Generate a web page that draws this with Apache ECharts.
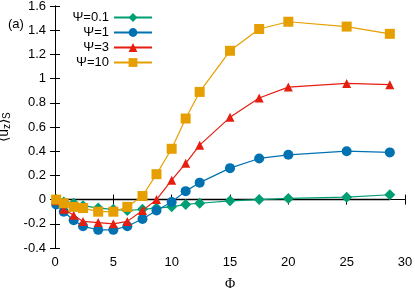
<!DOCTYPE html>
<html><head><meta charset="utf-8">
<script src="https://cdn.jsdelivr.net/npm/echarts@6/dist/echarts.min.js"></script>
<style>html,body{margin:0;padding:0;background:#fff}#c{width:415px;height:289px}</style>
</head><body><div id="c"></div>
<script>
const phi = [0.1, 0.75, 1.6, 2.4, 3.7, 5, 6.2, 7.5, 8.7, 10, 11.2, 12.4, 15, 17.5, 20, 25, 28.7];
const psi01 = [0.00, -0.02, -0.03, -0.05, -0.07, -0.08, -0.09, -0.08, -0.07, -0.06, -0.04, -0.03, -0.01, 0.00, 0.01, 0.02, 0.04];
const psi1  = [-0.04, -0.10, -0.17, -0.22, -0.25, -0.25, -0.22, -0.16, -0.09, -0.02, 0.07, 0.14, 0.26, 0.34, 0.37, 0.40, 0.39];
const psi3  = [-0.01, -0.08, -0.13, -0.18, -0.19, -0.20, -0.18, -0.09, 0.00, 0.16, 0.30, 0.45, 0.68, 0.84, 0.93, 0.96, 0.95];
const psi10 = [0.00, -0.03, -0.06, -0.07, -0.10, -0.10, -0.06, 0.03, 0.21, 0.42, 0.67, 0.89, 1.23, 1.41, 1.47, 1.43, 1.37];
const seriesNames = ['Ψ=0.1', 'Ψ=1', 'Ψ=3', 'Ψ=10'];
const zeroLineX = [0, 28.7];

const colors = ['#009e73', '#0072b2', '#e51e10', '#e69f00'];
const symbols = ['diamond', 'circle', 'triangle', 'rect'];
const sizes = [11, 10, 9, 10];
const values = [psi01, psi1, psi3, psi10];
const font = 'Liberation Sans, Arial, sans-serif';

const chart = echarts.init(document.getElementById('c'), null, {renderer: 'canvas'});
const series = values.map((v, i) => ({
  name: seriesNames[i], type: 'line',
  data: phi.map((x, k) => [x, v[k]]),
  symbol: symbols[i], symbolSize: sizes[i], showAllSymbol: true,
  lineStyle: {color: colors[i], width: 1.2},
  itemStyle: {color: colors[i]},
  z: 3 + i, animation: false
}));
series.unshift({
  name: 'zero', type: 'line', data: zeroLineX.map(x => [x, 0]),
  symbol: 'none', lineStyle: {color: '#000', width: 1.5}, z: 2, animation: false, silent: true
});
const legends = seriesNames.map((n, i) => ({
  data: [n], right: 262, top: 11 + i * 15, align: 'right', orient: 'vertical',
  itemWidth: 38, itemHeight: 11, itemGap: 0, padding: 0,
  textStyle: {fontFamily: font, fontSize: 13, color: '#000'}
}));
const axisLine = {show: true, lineStyle: {color: '#000', width: 1}};
chart.setOption({
  animation: false,
  title: {text: '(a)', left: 3, top: 13, textStyle: {fontFamily: font, fontSize: 13, fontWeight: 'normal', color: '#000'}},
  legend: legends,
  grid: {left: 55, right: 10, top: 6, bottom: 41, containLabel: false, outerBoundsMode: 'none'},
  xAxis: [{
    type: 'value', min: 0, max: 30, interval: 5,
    name: 'Φ', nameLocation: 'middle', nameGap: 29,
    nameTextStyle: {fontFamily: 'Liberation Serif, serif', fontSize: 14, color: '#000'},
    axisLine, axisTick: {show: true, inside: true, length: 5, lineStyle: {color: '#000'}},
    axisLabel: {fontFamily: font, fontSize: 13, color: '#000', margin: 8},
    splitLine: {show: false}
  }, {
    type: 'value', position: 'top', min: 0, max: 30, interval: 5,
    axisLine, axisTick: {show: true, inside: true, length: 5, lineStyle: {color: '#000'}},
    axisLabel: {show: false}, splitLine: {show: false}
  }],
  yAxis: [{
    type: 'value', min: -0.4, max: 1.6, interval: 0.2,
    name: '⟨u{sub|z}⟩{sub|S}', nameLocation: 'middle', nameGap: 38, nameRotate: 90,
    nameTextStyle: {fontFamily: font, fontSize: 14, color: '#000',
      rich: {sub: {fontFamily: font, fontSize: 10, verticalAlign: 'bottom', padding: [7, 0, 0, 0], color: '#000'}}},
    axisLine, axisTick: {show: true, inside: true, length: 5, lineStyle: {color: '#000'}},
    axisLabel: {fontFamily: font, fontSize: 13, color: '#000', margin: 9},
    splitLine: {show: false}
  }, {
    type: 'value', position: 'right', min: -0.4, max: 1.6, interval: 0.2,
    axisLine, axisTick: {show: true, inside: true, length: 5, lineStyle: {color: '#000'}},
    axisLabel: {show: false}, splitLine: {show: false}
  }],
  series
});
</script></body></html>
